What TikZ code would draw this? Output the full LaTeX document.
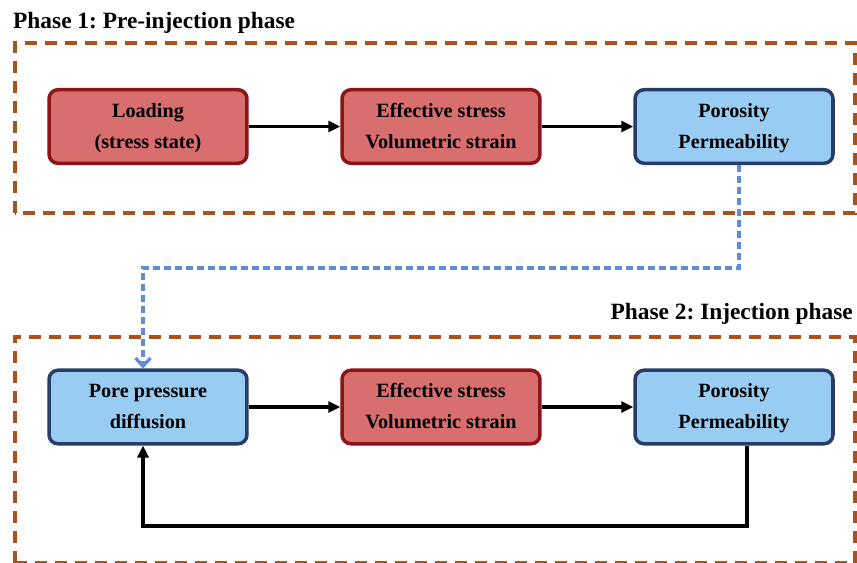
\documentclass[tikz,border=0pt]{standalone}
\usepackage{fontspec}
\setmainfont{Liberation Serif}
\usetikzlibrary{arrows.meta}
\frenchspacing
\definecolor{redfill}{RGB}{216,110,110}
\definecolor{reddraw}{RGB}{140,20,22}
\definecolor{bluefill}{RGB}{153,204,242}
\definecolor{bluedraw}{RGB}{40,60,105}
\definecolor{phasedash}{RGB}{170,82,28}
\definecolor{linkdash}{RGB}{95,140,215}
\begin{document}
\begin{tikzpicture}[x=0.02cm, y=-0.02cm,
		procbox/.style={rectangle, rounded corners=0.18cm, line width=2pt, minimum width=3.96cm, minimum height=1.3cm,
			align=center, font=\fontsize{11.5}{17.6}\selectfont\bfseries},
		redbox/.style={procbox, fill=redfill, draw=reddraw},
		bluebox/.style={procbox, fill=bluefill, draw=bluedraw},
		phaseframe/.style={draw=phasedash, line width=2.4pt, dash pattern=on 0.25cm off 0.15cm},
		flow/.style={line width=1.8pt, -{Triangle[length=2.4mm,width=2.2mm]}},
		link/.style={draw=linkdash, line width=1.9pt, dash pattern=on 0.14cm off 0.08cm, -{Straight Barb[length=1.6mm,width=3mm]}},
		phasetitle/.style={font=\fontsize{13.3}{16}\selectfont\bfseries}]
	\useasboundingbox (0,0) rectangle (857,562);
	% phase frames
	\draw[phaseframe] (15,213) -- (15,43) -- (855,43) -- (855,213) -- cycle;
	\draw[phaseframe] (15,563) -- (15,337) -- (855,337) -- (855,563);
	\draw[phaseframe] (15,563) -- (855,563);
	\node[phasetitle, anchor=west] (title1) at (7,23) {Phase 1: Pre-injection phase};
	\node[phasetitle, anchor=east] (title2) at (859,314) {Phase 2: Injection phase};
	% pre-injection phase
	\node[redbox] (load) at (148,126.5) {\strut Loading\\(stress state)\strut};
	\node[redbox] (eff1) at (441,126.5) {\strut Effective stress\\Volumetric strain\strut};
	\node[bluebox] (por1) at (734,126.5) {\strut Porosity\\Permeability\strut};
	\draw[flow] (load) -- (eff1);
	\draw[flow] (eff1) -- (por1);
	% injection phase
	\node[bluebox] (pore) at (148,407) {\strut Pore pressure\\diffusion\strut};
	\node[redbox] (eff2) at (441,407) {\strut Effective stress\\Volumetric strain\strut};
	\node[bluebox] (por2) at (734,407) {\strut Porosity\\Permeability\strut};
	\draw[flow] (pore) -- (eff2);
	\draw[flow] (eff2) -- (por2);
	% links
	\coordinate (turn) at (0,268);
	\coordinate (loop) at (0,526);
	\draw[link] ([xshift=0.1cm]por1.south) -- ([xshift=0.1cm]por1.south |- turn) -| ([xshift=-0.1cm]pore.north);
	\draw[flow] ([xshift=0.26cm]por2.south) -- ([xshift=0.26cm]por2.south |- loop) -| ([xshift=-0.1cm]pore.south);
\end{tikzpicture}
\end{document}
